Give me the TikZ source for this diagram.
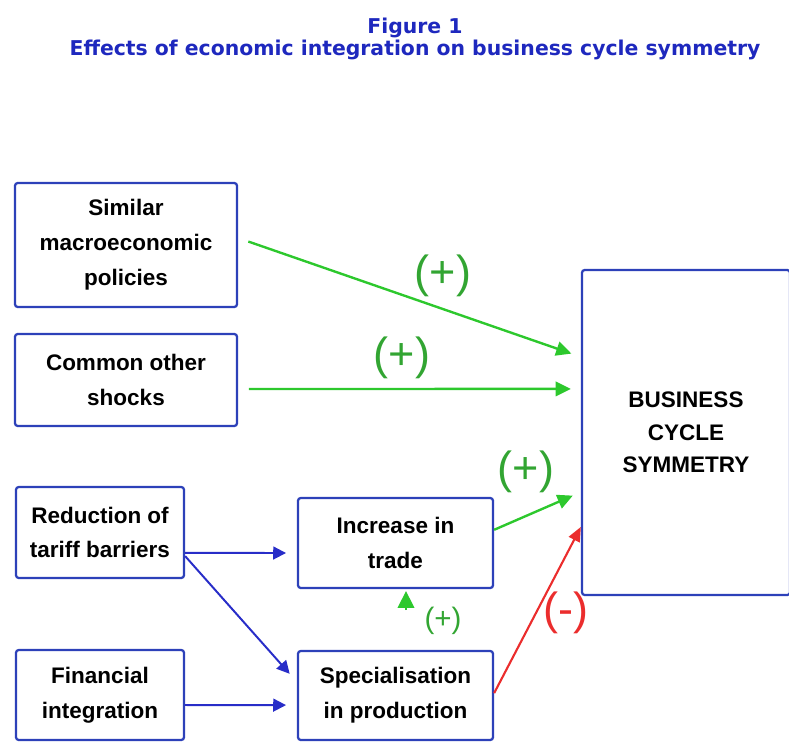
\documentclass[tikz,border=0pt]{standalone}
\usepackage{fontspec}
\setmainfont{Liberation Sans}
\newfontfamily\headfont{DejaVu Sans}
\usetikzlibrary{shapes,arrows.meta}

\definecolor{boxblue}{RGB}{45,65,185}
\definecolor{linkblue}{RGB}{40,45,200}
\definecolor{plusgreen}{RGB}{45,200,45}
\definecolor{signgreen}{RGB}{50,165,50}
\definecolor{minusred}{RGB}{235,45,45}
\definecolor{titleblue}{RGB}{30,40,190}

\begin{document}
\begin{tikzpicture}[x=0.025cm,y=-0.025cm]
	\tikzstyle{every node}+=[inner sep=0pt]
	\tikzstyle{factor}=[draw=boxblue, line width=1.6pt, rounded corners=2pt, align=center, font=\fontsize{16}{24.8}\selectfont\bfseries]
	\tikzstyle{link}=[draw=linkblue, line width=1.4pt, -{Triangle[length=0.32cm,width=0.32cm]}]
	\tikzstyle{gain}=[draw=plusgreen, line width=1.7pt, -{Triangle[length=0.38cm,width=0.36cm]}]
	\tikzstyle{loss}=[draw=minusred, line width=1.5pt, -{Triangle[length=0.36cm,width=0.3cm]}]
	\tikzstyle{sign}=[text=signgreen, font=\fontsize{32}{32}\selectfont]
	\useasboundingbox (0,0) rectangle (789,744);
	\node[text=titleblue, align=center, font=\headfont\fontsize{14.5}{14}\selectfont\bfseries] (title) at (415,39) {Figure 1\\Effects of economic integration on business cycle symmetry};
	\node[factor, minimum width=5.55cm, minimum height=3.1cm] (policies) at (126,245) {Similar\\macroeconomic\\policies};
	\node[factor, minimum width=5.55cm, minimum height=2.3cm] (shocks) at (126,380) {Common other\\shocks};
	\node[factor, minimum width=4.2cm, minimum height=2.275cm] (tariffs) at (100,532.5) {Reduction of\\tariff barriers};
	\node[factor, minimum width=4.2cm, minimum height=2.25cm] (finance) at (100,695) {Financial\\integration};
	\node[factor, minimum width=4.875cm, minimum height=2.25cm] (trade) at (395.5,543) {Increase in\\trade};
	\node[factor, minimum width=4.875cm, minimum height=2.225cm] (special) at (395.5,695.5) {Specialisation\\in production};
	\node[factor, minimum width=5.2cm, minimum height=8.125cm, font=\fontsize{16}{23}\selectfont\bfseries] (symmetry) at (686,432.5) {BUSINESS\\CYCLE\\SYMMETRY};
	\coordinate (tradefoot) at (406,610);
	\draw[gain, shorten <=0.27cm, shorten >=0.25cm] ([yshift=0.175cm]policies.east) -- ([yshift=1.89cm]symmetry.west);
	\node[sign] (plusa) at (443,276) {(+)};
	\draw[gain, shorten <=0.27cm, shorten >=0.25cm] ([yshift=-0.225cm]shocks.east) -- ([yshift=1.09cm]symmetry.west);
	\node[sign] (plusb) at (402,358) {(+)};
	\draw[gain, shorten >=0.22cm] ([yshift=0.33cm]trade.east) -- ([yshift=-1.49cm]symmetry.west);
	\node[sign] (plusc) at (526,472) {(+)};
	\draw[loss] ([yshift=0.06cm]special.east) -- ([yshift=-2.36cm]symmetry.west);
	\node[sign, text=minusred] (minus) at (566,613) {(-)};
	\draw[link, shorten >=0.27cm] ([yshift=-0.51cm]tariffs.east) -- ([yshift=-0.25cm]trade.west);
	\draw[link, shorten >=0.27cm] ([yshift=-0.59cm]tariffs.east) -- ([yshift=0.34cm]special.west);
	\draw[link, shorten >=0.27cm] ([yshift=-0.25cm]finance.east) -- ([yshift=-0.24cm]special.west);
	\draw[gain, line width=1pt, -{Triangle[length=0.42cm,width=0.42cm]}, shorten >=0.05cm] (tradefoot) -- (trade.south -| tradefoot);
	\node[sign, font=\fontsize{21}{21}\selectfont] (plusd) at (443,621) {(+)};
\end{tikzpicture}
\end{document}
